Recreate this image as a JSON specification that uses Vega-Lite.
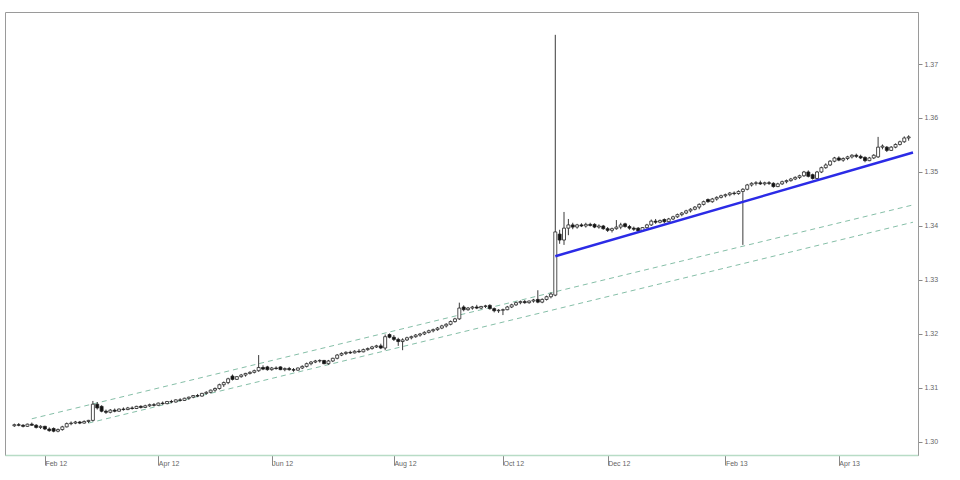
{
  "$schema": "https://vega.github.io/schema/vega-lite/v6.json",
  "autosize": "none",
  "width": 913,
  "height": 443,
  "padding": {"left": 5, "top": 12, "right": 42, "bottom": 25},
  "background": "#ffffff",
  "config": {
    "view": {"stroke": "#9a9a9a", "strokeWidth": 1},
    "font": "Liberation Sans"
  },
  "datasets": {
    "candles": [
      {"t":0,"o":130.30,"h":130.34,"l":130.28,"c":130.32},
      {"t":1,"o":130.32,"h":130.35,"l":130.29,"c":130.31},
      {"t":2,"o":130.31,"h":130.33,"l":130.27,"c":130.29},
      {"t":3,"o":130.29,"h":130.34,"l":130.28,"c":130.33},
      {"t":4,"o":130.33,"h":130.36,"l":130.30,"c":130.31},
      {"t":5,"o":130.31,"h":130.33,"l":130.25,"c":130.27},
      {"t":6,"o":130.27,"h":130.31,"l":130.24,"c":130.29},
      {"t":7,"o":130.29,"h":130.30,"l":130.22,"c":130.24},
      {"t":8,"o":130.24,"h":130.27,"l":130.19,"c":130.21},
      {"t":9,"o":130.25,"h":130.27,"l":130.18,"c":130.20},
      {"t":10,"o":130.20,"h":130.25,"l":130.18,"c":130.23},
      {"t":11,"o":130.23,"h":130.30,"l":130.21,"c":130.28},
      {"t":12,"o":130.28,"h":130.36,"l":130.27,"c":130.34},
      {"t":13,"o":130.34,"h":130.38,"l":130.31,"c":130.35},
      {"t":14,"o":130.35,"h":130.39,"l":130.33,"c":130.37},
      {"t":15,"o":130.37,"h":130.39,"l":130.33,"c":130.35},
      {"t":16,"o":130.35,"h":130.40,"l":130.34,"c":130.38},
      {"t":17,"o":130.38,"h":130.41,"l":130.35,"c":130.40},
      {"t":18,"o":130.40,"h":130.76,"l":130.38,"c":130.70},
      {"t":19,"o":130.70,"h":130.74,"l":130.60,"c":130.63},
      {"t":20,"o":130.66,"h":130.68,"l":130.55,"c":130.57},
      {"t":21,"o":130.57,"h":130.60,"l":130.52,"c":130.55},
      {"t":22,"o":130.55,"h":130.61,"l":130.53,"c":130.59},
      {"t":23,"o":130.59,"h":130.62,"l":130.55,"c":130.57},
      {"t":24,"o":130.57,"h":130.62,"l":130.56,"c":130.61},
      {"t":25,"o":130.61,"h":130.64,"l":130.58,"c":130.60},
      {"t":26,"o":130.60,"h":130.65,"l":130.59,"c":130.63},
      {"t":27,"o":130.63,"h":130.66,"l":130.60,"c":130.62},
      {"t":28,"o":130.62,"h":130.67,"l":130.61,"c":130.66},
      {"t":29,"o":130.66,"h":130.68,"l":130.62,"c":130.64},
      {"t":30,"o":130.64,"h":130.69,"l":130.63,"c":130.67},
      {"t":31,"o":130.67,"h":130.71,"l":130.65,"c":130.69},
      {"t":32,"o":130.69,"h":130.72,"l":130.66,"c":130.68},
      {"t":33,"o":130.68,"h":130.73,"l":130.67,"c":130.72},
      {"t":34,"o":130.72,"h":130.75,"l":130.69,"c":130.71},
      {"t":35,"o":130.71,"h":130.76,"l":130.70,"c":130.75},
      {"t":36,"o":130.75,"h":130.78,"l":130.72,"c":130.74},
      {"t":37,"o":130.74,"h":130.79,"l":130.73,"c":130.78},
      {"t":38,"o":130.78,"h":130.81,"l":130.75,"c":130.77},
      {"t":39,"o":130.77,"h":130.82,"l":130.76,"c":130.81},
      {"t":40,"o":130.81,"h":130.84,"l":130.78,"c":130.83},
      {"t":41,"o":130.83,"h":130.87,"l":130.81,"c":130.86},
      {"t":42,"o":130.86,"h":130.89,"l":130.83,"c":130.85},
      {"t":43,"o":130.85,"h":130.91,"l":130.84,"c":130.90},
      {"t":44,"o":130.90,"h":130.94,"l":130.88,"c":130.92},
      {"t":45,"o":130.92,"h":130.97,"l":130.90,"c":130.96},
      {"t":46,"o":130.96,"h":131.01,"l":130.93,"c":130.99},
      {"t":47,"o":130.99,"h":131.08,"l":130.97,"c":131.06},
      {"t":48,"o":131.06,"h":131.12,"l":131.02,"c":131.10},
      {"t":49,"o":131.10,"h":131.19,"l":131.07,"c":131.17},
      {"t":50,"o":131.22,"h":131.25,"l":131.14,"c":131.16},
      {"t":51,"o":131.16,"h":131.22,"l":131.15,"c":131.21},
      {"t":52,"o":131.21,"h":131.26,"l":131.19,"c":131.24},
      {"t":53,"o":131.24,"h":131.28,"l":131.21,"c":131.27},
      {"t":54,"o":131.27,"h":131.31,"l":131.25,"c":131.29},
      {"t":55,"o":131.29,"h":131.34,"l":131.27,"c":131.32},
      {"t":56,"o":131.32,"h":131.61,"l":131.30,"c":131.38},
      {"t":57,"o":131.38,"h":131.42,"l":131.33,"c":131.35},
      {"t":58,"o":131.39,"h":131.41,"l":131.32,"c":131.34},
      {"t":59,"o":131.34,"h":131.39,"l":131.32,"c":131.37},
      {"t":60,"o":131.37,"h":131.40,"l":131.34,"c":131.36},
      {"t":61,"o":131.39,"h":131.40,"l":131.33,"c":131.34},
      {"t":62,"o":131.34,"h":131.38,"l":131.31,"c":131.36},
      {"t":63,"o":131.36,"h":131.39,"l":131.32,"c":131.34},
      {"t":64,"o":131.34,"h":131.37,"l":131.30,"c":131.33},
      {"t":65,"o":131.33,"h":131.38,"l":131.32,"c":131.37},
      {"t":66,"o":131.37,"h":131.42,"l":131.35,"c":131.40},
      {"t":67,"o":131.40,"h":131.47,"l":131.38,"c":131.45},
      {"t":68,"o":131.45,"h":131.50,"l":131.42,"c":131.48},
      {"t":69,"o":131.48,"h":131.52,"l":131.46,"c":131.50},
      {"t":70,"o":131.50,"h":131.53,"l":131.47,"c":131.51},
      {"t":71,"o":131.51,"h":131.52,"l":131.44,"c":131.45},
      {"t":72,"o":131.45,"h":131.52,"l":131.43,"c":131.50},
      {"t":73,"o":131.50,"h":131.56,"l":131.48,"c":131.55},
      {"t":74,"o":131.55,"h":131.63,"l":131.53,"c":131.61},
      {"t":75,"o":131.61,"h":131.66,"l":131.59,"c":131.64},
      {"t":76,"o":131.64,"h":131.68,"l":131.61,"c":131.66},
      {"t":77,"o":131.66,"h":131.69,"l":131.63,"c":131.65},
      {"t":78,"o":131.65,"h":131.70,"l":131.64,"c":131.68},
      {"t":79,"o":131.68,"h":131.72,"l":131.65,"c":131.67},
      {"t":80,"o":131.67,"h":131.73,"l":131.66,"c":131.71},
      {"t":81,"o":131.71,"h":131.75,"l":131.69,"c":131.73},
      {"t":82,"o":131.73,"h":131.78,"l":131.71,"c":131.76},
      {"t":83,"o":131.76,"h":131.80,"l":131.74,"c":131.78},
      {"t":84,"o":131.78,"h":131.82,"l":131.72,"c":131.74},
      {"t":85,"o":131.74,"h":131.99,"l":131.70,"c":131.95},
      {"t":86,"o":131.99,"h":132.01,"l":131.92,"c":131.94},
      {"t":87,"o":131.94,"h":131.98,"l":131.87,"c":131.90},
      {"t":88,"o":131.90,"h":131.93,"l":131.78,"c":131.86},
      {"t":89,"o":131.86,"h":131.92,"l":131.70,"c":131.89},
      {"t":90,"o":131.89,"h":131.95,"l":131.87,"c":131.93},
      {"t":91,"o":131.93,"h":131.97,"l":131.90,"c":131.95},
      {"t":92,"o":131.95,"h":132.00,"l":131.93,"c":131.98},
      {"t":93,"o":131.98,"h":132.02,"l":131.95,"c":132.00},
      {"t":94,"o":132.00,"h":132.05,"l":131.98,"c":132.03},
      {"t":95,"o":132.03,"h":132.08,"l":132.01,"c":132.06},
      {"t":96,"o":132.06,"h":132.10,"l":132.03,"c":132.08},
      {"t":97,"o":132.08,"h":132.13,"l":132.06,"c":132.11},
      {"t":98,"o":132.11,"h":132.17,"l":132.09,"c":132.15},
      {"t":99,"o":132.15,"h":132.20,"l":132.12,"c":132.18},
      {"t":100,"o":132.18,"h":132.25,"l":132.16,"c":132.23},
      {"t":101,"o":132.23,"h":132.30,"l":132.21,"c":132.28},
      {"t":102,"o":132.28,"h":132.58,"l":132.26,"c":132.48},
      {"t":103,"o":132.50,"h":132.53,"l":132.42,"c":132.45},
      {"t":104,"o":132.45,"h":132.50,"l":132.43,"c":132.48},
      {"t":105,"o":132.48,"h":132.52,"l":132.45,"c":132.50},
      {"t":106,"o":132.50,"h":132.54,"l":132.46,"c":132.48},
      {"t":107,"o":132.48,"h":132.52,"l":132.46,"c":132.51},
      {"t":108,"o":132.51,"h":132.54,"l":132.48,"c":132.52},
      {"t":109,"o":132.53,"h":132.55,"l":132.45,"c":132.47},
      {"t":110,"o":132.47,"h":132.49,"l":132.40,"c":132.43},
      {"t":111,"o":132.43,"h":132.46,"l":132.39,"c":132.44},
      {"t":112,"o":132.44,"h":132.47,"l":132.35,"c":132.45},
      {"t":113,"o":132.45,"h":132.52,"l":132.44,"c":132.50},
      {"t":114,"o":132.50,"h":132.56,"l":132.48,"c":132.54},
      {"t":115,"o":132.54,"h":132.60,"l":132.52,"c":132.58},
      {"t":116,"o":132.58,"h":132.62,"l":132.55,"c":132.60},
      {"t":117,"o":132.60,"h":132.63,"l":132.56,"c":132.58},
      {"t":118,"o":132.58,"h":132.62,"l":132.56,"c":132.61},
      {"t":119,"o":132.61,"h":132.65,"l":132.58,"c":132.63},
      {"t":120,"o":132.64,"h":132.81,"l":132.57,"c":132.59},
      {"t":121,"o":132.59,"h":132.66,"l":132.57,"c":132.64},
      {"t":122,"o":132.64,"h":132.71,"l":132.62,"c":132.69},
      {"t":123,"o":132.69,"h":132.77,"l":132.66,"c":132.74},
      {"t":124,"o":132.72,"h":137.54,"l":132.70,"c":133.89},
      {"t":125,"o":133.85,"h":133.93,"l":133.67,"c":133.74},
      {"t":126,"o":133.74,"h":134.26,"l":133.65,"c":133.96},
      {"t":127,"o":133.96,"h":134.13,"l":133.83,"c":134.02},
      {"t":128,"o":134.02,"h":134.06,"l":133.94,"c":133.98},
      {"t":129,"o":133.98,"h":134.04,"l":133.95,"c":134.02},
      {"t":130,"o":134.02,"h":134.05,"l":133.98,"c":134.00},
      {"t":131,"o":134.00,"h":134.06,"l":133.97,"c":134.03},
      {"t":132,"o":134.03,"h":134.06,"l":133.99,"c":134.01},
      {"t":133,"o":134.03,"h":134.05,"l":133.96,"c":133.98},
      {"t":134,"o":133.98,"h":134.03,"l":133.95,"c":134.00},
      {"t":135,"o":134.00,"h":134.02,"l":133.93,"c":133.95},
      {"t":136,"o":133.95,"h":133.98,"l":133.89,"c":133.92},
      {"t":137,"o":133.92,"h":133.97,"l":133.88,"c":133.95},
      {"t":138,"o":133.95,"h":134.11,"l":133.93,"c":133.98},
      {"t":139,"o":133.98,"h":134.06,"l":133.94,"c":134.02},
      {"t":140,"o":134.04,"h":134.06,"l":133.97,"c":133.99},
      {"t":141,"o":133.99,"h":134.02,"l":133.93,"c":133.96},
      {"t":142,"o":133.96,"h":133.99,"l":133.91,"c":133.94},
      {"t":143,"o":133.96,"h":133.98,"l":133.89,"c":133.91},
      {"t":144,"o":133.91,"h":133.98,"l":133.90,"c":133.97},
      {"t":145,"o":133.97,"h":134.04,"l":133.95,"c":134.02},
      {"t":146,"o":134.02,"h":134.12,"l":134.00,"c":134.09},
      {"t":147,"o":134.09,"h":134.13,"l":134.04,"c":134.07},
      {"t":148,"o":134.07,"h":134.12,"l":134.05,"c":134.10},
      {"t":149,"o":134.12,"h":134.14,"l":134.05,"c":134.08},
      {"t":150,"o":134.08,"h":134.15,"l":134.07,"c":134.13},
      {"t":151,"o":134.13,"h":134.19,"l":134.11,"c":134.17},
      {"t":152,"o":134.17,"h":134.23,"l":134.15,"c":134.21},
      {"t":153,"o":134.21,"h":134.26,"l":134.18,"c":134.24},
      {"t":154,"o":134.24,"h":134.30,"l":134.22,"c":134.28},
      {"t":155,"o":134.28,"h":134.33,"l":134.25,"c":134.31},
      {"t":156,"o":134.31,"h":134.37,"l":134.29,"c":134.35},
      {"t":157,"o":134.35,"h":134.42,"l":134.31,"c":134.40},
      {"t":158,"o":134.40,"h":134.47,"l":134.38,"c":134.45},
      {"t":159,"o":134.49,"h":134.51,"l":134.43,"c":134.45},
      {"t":160,"o":134.45,"h":134.52,"l":134.43,"c":134.50},
      {"t":161,"o":134.50,"h":134.55,"l":134.47,"c":134.53},
      {"t":162,"o":134.53,"h":134.58,"l":134.51,"c":134.56},
      {"t":163,"o":134.56,"h":134.60,"l":134.53,"c":134.58},
      {"t":164,"o":134.58,"h":134.63,"l":134.55,"c":134.61},
      {"t":165,"o":134.61,"h":134.64,"l":134.57,"c":134.60},
      {"t":166,"o":134.60,"h":134.66,"l":134.58,"c":134.64},
      {"t":167,"o":134.64,"h":134.70,"l":133.65,"c":134.68},
      {"t":168,"o":134.68,"h":134.78,"l":134.66,"c":134.76},
      {"t":169,"o":134.76,"h":134.81,"l":134.73,"c":134.79},
      {"t":170,"o":134.79,"h":134.83,"l":134.75,"c":134.80},
      {"t":171,"o":134.80,"h":134.84,"l":134.76,"c":134.78},
      {"t":172,"o":134.78,"h":134.82,"l":134.75,"c":134.80},
      {"t":173,"o":134.80,"h":134.83,"l":134.76,"c":134.79},
      {"t":174,"o":134.79,"h":134.81,"l":134.71,"c":134.73},
      {"t":175,"o":134.73,"h":134.80,"l":134.72,"c":134.78},
      {"t":176,"o":134.78,"h":134.84,"l":134.76,"c":134.82},
      {"t":177,"o":134.82,"h":134.86,"l":134.79,"c":134.84},
      {"t":178,"o":134.84,"h":134.89,"l":134.82,"c":134.87},
      {"t":179,"o":134.87,"h":134.92,"l":134.85,"c":134.90},
      {"t":180,"o":134.90,"h":134.95,"l":134.87,"c":134.93},
      {"t":181,"o":134.93,"h":135.02,"l":134.91,"c":135.00},
      {"t":182,"o":135.00,"h":135.03,"l":134.90,"c":134.92},
      {"t":183,"o":134.95,"h":134.97,"l":134.86,"c":134.88},
      {"t":184,"o":134.88,"h":135.02,"l":134.87,"c":135.00},
      {"t":185,"o":135.00,"h":135.10,"l":134.98,"c":135.08},
      {"t":186,"o":135.08,"h":135.16,"l":135.06,"c":135.13},
      {"t":187,"o":135.13,"h":135.22,"l":135.11,"c":135.20},
      {"t":188,"o":135.20,"h":135.28,"l":135.18,"c":135.26},
      {"t":189,"o":135.26,"h":135.29,"l":135.20,"c":135.22},
      {"t":190,"o":135.22,"h":135.27,"l":135.19,"c":135.25},
      {"t":191,"o":135.25,"h":135.30,"l":135.22,"c":135.28},
      {"t":192,"o":135.28,"h":135.33,"l":135.25,"c":135.31},
      {"t":193,"o":135.31,"h":135.34,"l":135.26,"c":135.29},
      {"t":194,"o":135.29,"h":135.32,"l":135.24,"c":135.26},
      {"t":195,"o":135.27,"h":135.29,"l":135.18,"c":135.21},
      {"t":196,"o":135.21,"h":135.28,"l":135.20,"c":135.26},
      {"t":197,"o":135.26,"h":135.33,"l":135.24,"c":135.31},
      {"t":198,"o":135.28,"h":135.65,"l":135.26,"c":135.46},
      {"t":199,"o":135.46,"h":135.51,"l":135.42,"c":135.48},
      {"t":200,"o":135.46,"h":135.48,"l":135.37,"c":135.40},
      {"t":201,"o":135.40,"h":135.48,"l":135.39,"c":135.46},
      {"t":202,"o":135.46,"h":135.53,"l":135.44,"c":135.51},
      {"t":203,"o":135.51,"h":135.58,"l":135.49,"c":135.56},
      {"t":204,"o":135.56,"h":135.66,"l":135.54,"c":135.63},
      {"t":205,"o":135.63,"h":135.68,"l":135.58,"c":135.65}
    ],
    "lines": [
      {"line":"upper","t":4,"v":130.43},
      {"line":"upper","t":206,"v":134.39},
      {"line":"lower","t":17,"v":130.35},
      {"line":"lower","t":206,"v":134.07}
    ],
    "trend": [
      {"t":124,"v":133.44},
      {"t":206,"v":135.36}
    ]
  },
  "layer": [
    {
      "data": {"name": "lines"},
      "mark": {"type": "line", "strokeDash": [5, 4], "strokeWidth": 1, "color": "#86bfa8", "clip": true},
      "encoding": {
        "x": {"field": "t", "type": "quantitative"},
        "y": {"field": "v", "type": "quantitative"},
        "detail": {"field": "line"}
      }
    },
    {
      "data": {"name": "candles"},
      "mark": {"type": "rule", "color": "#3a3a3a", "strokeWidth": 1, "clip": true},
      "encoding": {
        "x": {
          "field": "t", "type": "quantitative",
          "scale": {"domain": [-1, 206], "nice": false, "zero": false},
          "axis": {
            "orient": "bottom", "title": null, "grid": false,
            "values": [7, 33, 59, 87, 112, 136, 163, 189],
            "labelExpr": "['Feb 12','Apr 12','Jun 12','Aug 12','Oct 12','Dec 12','Feb 13','Apr 13'][indexof([7,33,59,87,112,136,163,189], datum.value)]",
            "labelAlign": "left", "labelBaseline": "middle", "labelPadding": -2, "labelDx": 3,
            "labelFontSize": 7, "labelColor": "#666666",
            "tickSize": 10, "tickColor": "#888888", "tickWidth": 1,
            "domainColor": "#b8dcc6", "domainWidth": 1.5
          }
        },
        "y": {
          "field": "l", "type": "quantitative",
          "scale": {"domain": [129.759, 137.963], "nice": false, "zero": false},
          "axis": {
            "orient": "right", "title": null, "grid": false,
            "values": [129.5, 130, 130.5, 131, 131.5, 132, 132.5, 133, 133.5, 134, 134.5, 135, 135.5, 136, 136.5, 137, 137.5],
            "labelExpr": "datum.value % 1 == 0 ? format(datum.value / 100, '.2f') : ''",
            "labelFontSize": 7, "labelColor": "#666666", "labelPadding": 2,
            "tickSize": 4, "tickColor": "#888888",
            "domainColor": "#9a9a9a"
          }
        },
        "y2": {"field": "h"}
      }
    },
    {
      "data": {"name": "candles"},
      "mark": {"type": "bar", "size": 3, "stroke": "#222222", "strokeWidth": 0.8, "clip": true},
      "encoding": {
        "x": {"field": "t", "type": "quantitative"},
        "y": {"field": "o", "type": "quantitative"},
        "y2": {"field": "c"},
        "fill": {
          "condition": {"test": "datum.o > datum.c", "value": "#111111"},
          "value": "#ffffff"
        }
      }
    },
    {
      "data": {"name": "trend"},
      "mark": {"type": "line", "strokeWidth": 2.5, "color": "#2b2be6", "clip": true},
      "encoding": {
        "x": {"field": "t", "type": "quantitative"},
        "y": {"field": "v", "type": "quantitative"}
      }
    }
  ]
}
